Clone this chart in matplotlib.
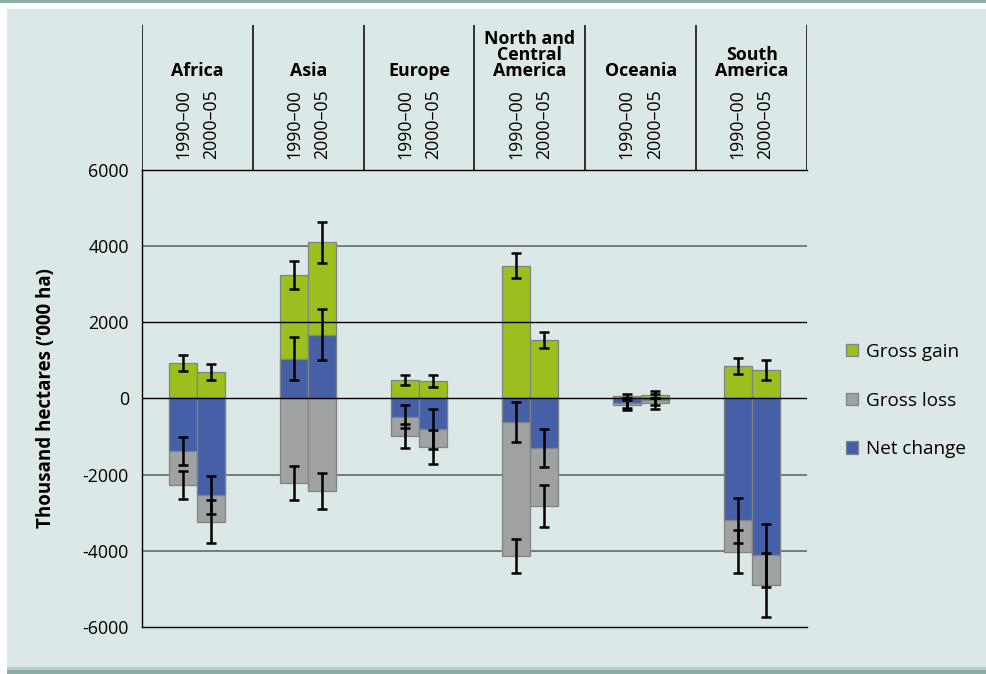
import numpy as np
import matplotlib
matplotlib.use("Agg")
import matplotlib.pyplot as plt
from matplotlib.patches import Patch, Rectangle

plt.rc('font', family=['Open Sans', 'DejaVu Sans'], size=12.5)
plt.rc('axes', linewidth=1.0)

# data (thousand ha)
regions = ["Africa", "Asia", "Europe", "North and\nCentral\nAmerica", "Oceania", "South\nAmerica"]
periods = ["1990\u201300", "2000\u201305"]

gain_9000 = [920, 3240, 480, 3490, 60, 860]
gain_0005 = [700, 4100, 460, 1540, 100, 745]
loss_9000 = [2280, 2220, 980, 4130, 170, 4020]
loss_0005 = [3230, 2430, 1270, 2830, 130, 4890]
net_9000 = [-1380, 1040, -480, -620, -110, -3200]
net_0005 = [-2540, 1680, -810, -1300, -30, -4120]

gain_err_9000 = [210, 360, 130, 330, 60, 205]
gain_err_0005 = [205, 540, 165, 215, 90, 260]
loss_err_9000 = [370, 450, 315, 450, 130, 555]
loss_err_0005 = [555, 470, 450, 555, 150, 845]
net_err_9000 = [375, 565, 300, 525, 130, 600]
net_err_0005 = [505, 660, 525, 490, 140, 830]

yticks = [6000, 4000, 2000, 0, -2000, -4000, -6000]
legend_labels = ["Gross gain", "Gross loss", "Net change"]

green = '#9bc01e'
grey = '#a0a1a3'
blue = '#4560a6'
panel = '#dbe8e7'
teal = '#8daea8'

W, H = 987, 674
fig = plt.figure(figsize=(W/100, H/100), dpi=100, facecolor='white')

# background panel and bands
fig.patches.append(Rectangle((7/W, 7/H), 1-7/W, 1-16/H, transform=fig.transFigure,
                             facecolor=panel, edgecolor='none', zorder=-10))
fig.patches.append(Rectangle((0, 1-3/H), 1, 3/H, transform=fig.transFigure,
                             facecolor=teal, edgecolor='none', zorder=-9))
fig.patches.append(Rectangle((7/W, 0), 1-7/W, 4/H, transform=fig.transFigure,
                             facecolor=teal, edgecolor='none', zorder=-9))
fig.patches.append(Rectangle((7/W, 4/H), 1-7/W, 3/H, transform=fig.transFigure,
                             facecolor='#b9cfcb', edgecolor='none', zorder=-9))

left, right = 142, 807
top, bottom = 170, 627
ax = fig.add_axes([left/W, 1-bottom/H, (right-left)/W, (bottom-top)/H])
ax.set_facecolor('none')

x = np.arange(len(regions))
bw = 0.252
x1 = x - bw/2
x2 = x + bw/2

for xs, gain, loss, net in [(x1, gain_9000, loss_9000, net_9000),
                            (x2, gain_0005, loss_0005, net_0005)]:
    ax.bar(xs, gain, width=bw, color=green, edgecolor='#7f8384', linewidth=0.9, zorder=3)
    ax.bar(xs, -np.array(loss), width=bw, color=grey, edgecolor='#7f8384', linewidth=0.9, zorder=3)
    ax.bar(xs, net, width=bw, color=blue, edgecolor='#7f8384', linewidth=0.9, zorder=4)

for xs, vals, errs in [(x1, gain_9000, gain_err_9000), (x2, gain_0005, gain_err_0005),
                       (x1, -np.array(loss_9000), loss_err_9000), (x2, -np.array(loss_0005), loss_err_0005),
                       (x1, net_9000, net_err_9000), (x2, net_0005, net_err_0005)]:
    ax.errorbar(xs, vals, yerr=errs, fmt='none', ecolor='black', elinewidth=1.8,
                capsize=3.5, capthick=1.8, zorder=6)

# horizontal rules
for yv in [4000, -2000, -4000]:
    ax.axhline(yv, color='#6c7573', linewidth=1.3, zorder=1)
for yv in [2000, 0]:
    ax.axhline(yv, color='black', linewidth=1.0, zorder=5)

ax.set_xlim(-0.5, 5.5)
ax.set_ylim(-6000, 6000)
ax.set_xticks([])
ax.set_yticks(yticks)
ax.set_yticklabels([str(v) for v in yticks])
ax.tick_params(axis='y', left=False, pad=6, labelsize=12.8)
ax.spines['right'].set_visible(False)
ax.set_ylabel("Thousand hectares (\u2019000 ha)", fontsize=13.5, fontweight='bold')
ax.yaxis.set_label_coords((56-left)/(right-left), 0.5)

# header with region names and periods
htop = 25
hax = fig.add_axes([left/W, 1-top/H, (right-left)/W, (top-htop)/H])
hax.set_facecolor('none')
hax.set_xlim(-0.5, 5.5)
hax.set_ylim(0, 1)
hax.axis('off')
hax.vlines(np.arange(-0.5, 6.0, 1.0), 0, 1, color='black', linewidth=1.1)
for i, name in enumerate(regions):
    hax.text(x[i], (top-80)/(top-htop), name, ha='center', va='bottom',
             fontsize=12.8, fontweight='bold', linespacing=0.85)
    for xs, p in [(x1[i], periods[0]), (x2[i], periods[1])]:
        hax.text(xs, (top-89)/(top-htop), p, rotation=90, ha='center', va='top', fontsize=12.8)

handles = [Patch(facecolor=c, edgecolor='#7f8384', linewidth=0.9) for c in [green, grey, blue]]
fig.legend(handles, legend_labels, loc='upper left', bbox_to_anchor=(829/W, 1-326/H),
           frameon=False, handlelength=0.62, handleheight=0.62, handletextpad=0.45,
           labelspacing=1.62, fontsize=13.6)

plt.savefig("out.png", dpi=100, facecolor=fig.get_facecolor())
